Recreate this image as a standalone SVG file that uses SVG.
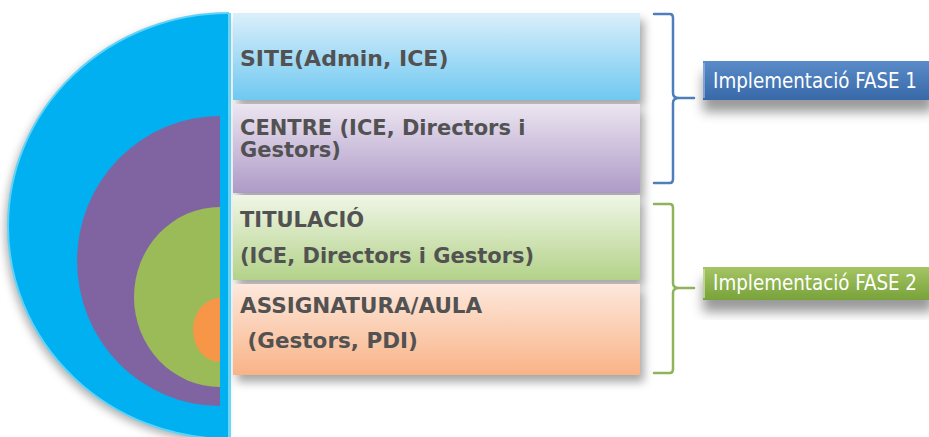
<svg xmlns="http://www.w3.org/2000/svg" width="929" height="437" viewBox="0 0 929 437">
  <defs>
    <linearGradient id="gSite" x1="0" y1="0" x2="0" y2="1">
      <stop offset="0" stop-color="#dbeffb"/>
      <stop offset="1" stop-color="#6fc8f1"/>
    </linearGradient>
    <linearGradient id="gCentre" x1="0" y1="0" x2="0" y2="1">
      <stop offset="0" stop-color="#ece5f1"/>
      <stop offset="1" stop-color="#ae9ac7"/>
    </linearGradient>
    <linearGradient id="gTit" x1="0" y1="0" x2="0" y2="1">
      <stop offset="0" stop-color="#f0f6e7"/>
      <stop offset="1" stop-color="#b3d289"/>
    </linearGradient>
    <linearGradient id="gAss" x1="0" y1="0" x2="0" y2="1">
      <stop offset="0" stop-color="#fde8dc"/>
      <stop offset="1" stop-color="#f9b387"/>
    </linearGradient>
    <linearGradient id="gF1" x1="0" y1="0" x2="0" y2="1">
      <stop offset="0" stop-color="#5a8cc8"/>
      <stop offset="1" stop-color="#3868a8"/>
    </linearGradient>
    <linearGradient id="gF2" x1="0" y1="0" x2="0" y2="1">
      <stop offset="0" stop-color="#a5c564"/>
      <stop offset="1" stop-color="#78a23a"/>
    </linearGradient>
    <filter id="sh" x="-10%" y="-10%" width="130%" height="140%">
      <feDropShadow dx="4" dy="7" stdDeviation="5" flood-color="#000" flood-opacity="0.35"/>
    </filter>
    <filter id="shL" x="-10%" y="-30%" width="130%" height="190%">
      <feDropShadow dx="0" dy="12" stdDeviation="6" flood-color="#000" flood-opacity="0.4"/>
    </filter>
    <filter id="shC" x="-10%" y="-10%" width="130%" height="130%">
      <feDropShadow dx="-3" dy="4" stdDeviation="4" flood-color="#000" flood-opacity="0.3"/>
    </filter>
  </defs>
  <style>
    .lvl { font-family: "DejaVu Sans", Verdana, sans-serif; font-weight: bold; font-size: 21px; fill: #525252; }
    .fase { font-family: "DejaVu Sans Condensed", "DejaVu Sans", sans-serif; font-size: 21px; fill: #ffffff; }
    .brace { fill: none; stroke-width: 2.5; stroke-linejoin: round; stroke-linecap: round; }
  </style>

  <g id="rings">
    <path d="M229,13 A221,213 0 0 0 229,439 Z" fill="#00b0f0" filter="url(#shC)"/>
    <path d="M229,13 A221,213 0 0 0 229,439" fill="none" stroke="#5fd2f8" stroke-width="2"/>
    <path d="M220,116 A143,145 0 0 0 220,406 Z" fill="#8064a2"/>
    <path d="M220,207 A86,90 0 0 0 220,387 Z" fill="#9bbb59"/>
    <path d="M220,298 A27,32 0 0 0 220,362 Z" fill="#f79646"/>
    <rect x="228" y="13" width="3" height="424" fill="#6cd6f8"/>
  </g>

  <g id="site">
    <rect x="233" y="13" width="407" height="87" fill="url(#gSite)" filter="url(#sh)"/>
    <text class="lvl" x="240" y="66" style="font-size:22px">SITE(Admin, ICE)</text>
  </g>
  <g id="centre">
    <rect x="233" y="104" width="407" height="89" fill="url(#gCentre)" filter="url(#sh)"/>
    <text class="lvl" x="240" y="135">CENTRE (ICE, Directors i</text>
    <text class="lvl" x="240" y="157">Gestors)</text>
  </g>
  <g id="titulacio">
    <rect x="233" y="195" width="407" height="85" fill="url(#gTit)" filter="url(#sh)"/>
    <text class="lvl" x="240" y="227">TITULACIÓ</text>
    <text class="lvl" x="240" y="263">(ICE, Directors i Gestors)</text>
  </g>
  <g id="assignatura">
    <rect x="233" y="284" width="407" height="91" fill="url(#gAss)" filter="url(#sh)"/>
    <text class="lvl" x="240" y="313" style="font-size:21.5px">ASSIGNATURA/AULA</text>
    <text class="lvl" x="240" y="348" xml:space="preserve" style="font-size:21.5px"> (Gestors, PDI)</text>
  </g>

  <g id="connectors">
    <path class="brace" stroke="#4f7fbb" d="M654,14 H670 Q673,14 673,18 V93 Q673,98 679,98 H694 M679,98 Q673,98 673,103 V179 Q673,183 670,183 H654"/>
    <path class="brace" stroke="#8fb35a" d="M654,204 H670 Q673,204 673,208 V283 Q673,288 679,288 H694 M679,288 Q673,288 673,293 V369 Q673,373 670,373 H654"/>
  </g>

  <g id="fase1">
    <rect x="703" y="61" width="230" height="39" fill="url(#gF1)" filter="url(#shL)"/>
    <line x1="704" y1="63" x2="704" y2="98" stroke="#8fb5e0" stroke-width="1.5"/>
    <text class="fase" x="713" y="88" textLength="204" lengthAdjust="spacingAndGlyphs">Implementació FASE 1</text>
  </g>
  <g id="fase2">
    <rect x="703" y="267" width="230" height="33" fill="url(#gF2)" filter="url(#shL)"/>
    <line x1="704" y1="269" x2="704" y2="298" stroke="#cde3a6" stroke-width="1.5"/>
    <text class="fase" x="713" y="290" textLength="204" lengthAdjust="spacingAndGlyphs">Implementació FASE 2</text>
  </g>
</svg>
